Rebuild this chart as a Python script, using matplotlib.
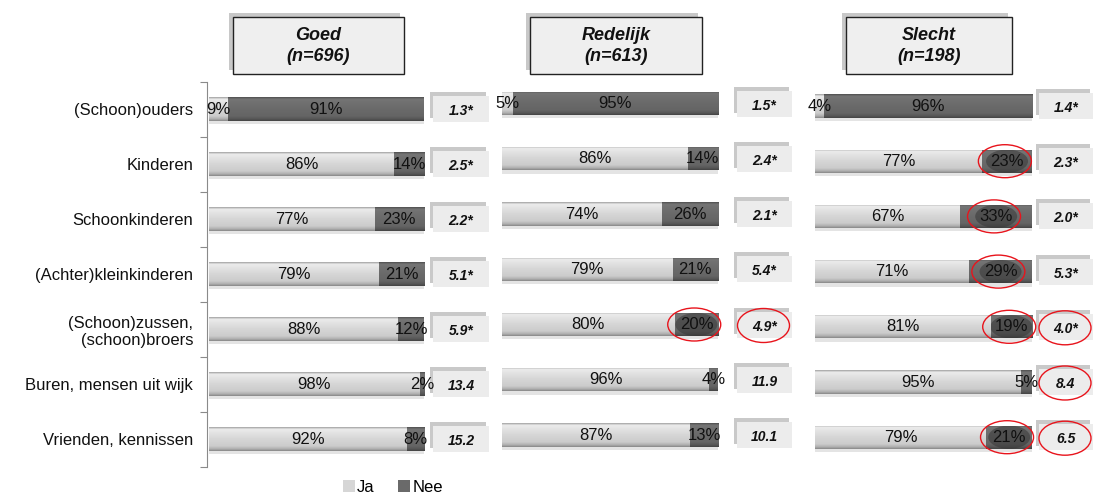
import matplotlib
matplotlib.use("Agg")
import matplotlib.pyplot as plt
import numpy as np
from matplotlib.patches import Rectangle, Ellipse

plt.rcParams['font.family'] = ['Liberation Sans', 'DejaVu Sans']

categories = ["(Schoon)ouders", "Kinderen", "Schoonkinderen", "(Achter)kleinkinderen",
              "(Schoon)zussen,\n(schoon)broers", "Buren, mensen uit wijk", "Vrienden, kennissen"]

panel_titles = ["Goed\n(n=696)", "Redelijk\n(n=613)", "Slecht\n(n=198)"]

ja_goed = [9, 86, 77, 79, 88, 98, 92]
nee_goed = [91, 14, 23, 21, 12, 2, 8]
score_goed = ["1.3*", "2.5*", "2.2*", "5.1*", "5.9*", "13.4", "15.2"]

ja_redelijk = [5, 86, 74, 79, 80, 96, 87]
nee_redelijk = [95, 14, 26, 21, 20, 4, 13]
score_redelijk = ["1.5*", "2.4*", "2.1*", "5.4*", "4.9*", "11.9", "10.1"]

ja_slecht = [4, 77, 67, 71, 81, 95, 79]
nee_slecht = [96, 23, 33, 29, 19, 5, 21]
score_slecht = ["1.4*", "2.3*", "2.0*", "5.3*", "4.0*", "8.4", "6.5"]

# highlighted (circled) rows
circ_nee = [[], [4], [1, 2, 3, 4, 6]]
circ_score = [[], [4], [4, 5, 6]]

W, H = 1094, 497
fig = plt.figure(figsize=(W / 100, H / 100), dpi=100)
fig.patch.set_facecolor('white')

JA_COL = np.array([214, 214, 214]) / 255
NEE_COL = np.array([106, 106, 106]) / 255


def px_axes(x0, x1, y0, y1):
    return fig.add_axes([x0 / W, 1 - y1 / H, (x1 - x0) / W, (y1 - y0) / H])


def gradient(base):
    prof = np.interp(np.linspace(0, 1, 40),
                     [0, 0.08, 0.2, 0.5, 0.8, 0.92, 1.0],
                     [0.78, 1.10, 1.07, 1.0, 0.95, 0.82, 0.65])
    g = np.clip(base[None, :] * prof[:, None], 0, 1)
    return g[:, None, :]


# panel geometry (pixels)
panels = [
    dict(x0=209, x1=424, r0=109.0, sp=55.0, box=(433, 489), hdr=(233, 404)),
    dict(x0=502, x1=718, r0=103.5, sp=55.25, box=(737, 792), hdr=(530, 702)),
    dict(x0=815, x1=1032, r0=106.0, sp=55.2, box=(1039, 1093), hdr=(846, 1012)),
]
ja_all = [ja_goed, ja_redelijk, ja_slecht]
nee_all = [nee_goed, nee_redelijk, nee_slecht]
score_all = [score_goed, score_redelijk, score_slecht]

ypos = np.arange(len(categories))
bar_h = 0.42
handles = None

for p, (pan, ja, nee, sc) in enumerate(zip(panels, ja_all, nee_all, score_all)):
    ppu = (pan['x1'] - pan['x0']) / 100.0
    left_px = pan['x0'] - (2 if p == 0 else 0)
    ax = px_axes(left_px, pan['x1'], pan['r0'] - pan['sp'] / 2, pan['r0'] + 6.5 * pan['sp'])
    xmin = -(pan['x0'] - left_px) / ppu
    bj = ax.barh(ypos, ja, height=bar_h, color=JA_COL, edgecolor='none', zorder=2, label='Ja')
    bn = ax.barh(ypos, nee, left=ja, height=bar_h, color=NEE_COL, edgecolor='none', zorder=2, label='Nee')
    if handles is None:
        handles = [bj, bn]
    for cont, base in ((bj, JA_COL), (bn, NEE_COL)):
        for r in cont.patches:
            x, y = r.get_x(), r.get_y()
            w, h = r.get_width(), r.get_height()
            im = ax.imshow(gradient(base), extent=[x, x + w, y + h, y], aspect='auto',
                           zorder=2.5, interpolation='bilinear')
            im.set_clip_path(r)
    # bottom shadow
    ax.barh(ypos + bar_h / 2 + 0.03, [a + b for a, b in zip(ja, nee)], height=0.06,
            color='#e4e4e4', zorder=1)

    for i in range(len(categories)):
        ax.text(ja[i] / 2, i, f"{ja[i]}%", ha='center', va='center', fontsize=12,
                color='#111111', zorder=5)
        ax.text(ja[i] + nee[i] / 2, i, f"{nee[i]}%", ha='center', va='center', fontsize=12,
                color='#111111', zorder=5)

    for i in circ_nee[p]:
        cx = ja[i] + nee[i] / 2
        glow = Ellipse((cx, i), 42 / ppu, 0.42, color='#333333', alpha=0.5, zorder=3, lw=0)
        ax.add_patch(glow)
        glow.set_clip_path(bn.patches[i])
        ax.add_patch(Ellipse((cx - 1, i), 53 / ppu, 33 / pan['sp'], fill=False,
                             edgecolor='#e8141c', lw=1.0, zorder=6, clip_on=False))

    # score boxes
    bx0 = (pan['box'][0] - pan['x0']) / ppu
    bw = (pan['box'][1] - pan['box'][0]) / ppu
    bh = 26 / pan['sp']
    for i in range(len(categories)):
        ax.add_patch(Rectangle((bx0 - 3 / ppu, i - bh / 2 - 4 / pan['sp']), bw, bh,
                               facecolor='#c9c9c9', edgecolor='none', zorder=1, clip_on=False))
        ax.add_patch(Rectangle((bx0, i - bh / 2), bw, bh, facecolor='#ececec',
                               edgecolor='none', zorder=2, clip_on=False))
        ax.text(bx0 + bw / 2, i + 2 / pan['sp'], sc[i], ha='center', va='center',
                fontsize=10, fontweight='bold', fontstyle='italic', color='#111111',
                zorder=5, clip_on=False)
    for i in circ_score[p]:
        ax.add_patch(Ellipse((bx0 + bw / 2 - 1 / ppu, i + 1 / pan['sp']), 52 / ppu, 34 / pan['sp'],
                             fill=False, edgecolor='#e8141c', lw=1.0, zorder=6, clip_on=False))

    ax.set_xlim(xmin, 100)
    ax.set_ylim(6.5, -0.5)
    for s in ['top', 'right', 'bottom']:
        ax.spines[s].set_visible(False)
    ax.set_xticks([])
    ax.patch.set_alpha(0)
    if p == 0:
        ax.spines['left'].set_color('#8a8a8a')
        ax.spines['left'].set_linewidth(0.8)
        ax.set_yticks(ypos)
        ax.set_yticklabels(categories, fontsize=12, color='#111111')
        ax.tick_params(axis='y', which='major', length=0, pad=10)
        ax.set_yticks(np.arange(-0.5, 7, 1), minor=True)
        ax.tick_params(axis='y', which='minor', length=5, color='#8a8a8a', width=0.8)
    else:
        ax.spines['left'].set_visible(False)
        ax.set_yticks([])

# headers
ov = fig.add_axes([0, 0, 1, 1], zorder=-1)
ov.set_xlim(0, W)
ov.set_ylim(H, 0)
ov.axis('off')
for pan, title in zip(panels, panel_titles):
    hx0, hx1 = pan['hdr']
    ov.add_patch(Rectangle((hx0 - 4, 13), hx1 - hx0, 57, facecolor='#c8c8c8', edgecolor='none'))
    ov.add_patch(Rectangle((hx0, 17), hx1 - hx0, 57, facecolor='#efefef', edgecolor='#222222', lw=1.0))
    ov.text((hx0 + hx1) / 2, 46, title, ha='center', va='center', fontsize=13,
            fontweight='bold', fontstyle='italic', color='#111111', linespacing=1.3)

fig.legend(handles=handles, labels=['Ja', 'Nee'], loc='center', ncol=2, frameon=False,
           bbox_to_anchor=(393 / W, 1 - 487 / H), fontsize=12, handlelength=0.7,
           handleheight=0.7, handletextpad=0.15, columnspacing=1.4, borderpad=0)

fig.savefig('out.png', dpi=100, facecolor='white')
